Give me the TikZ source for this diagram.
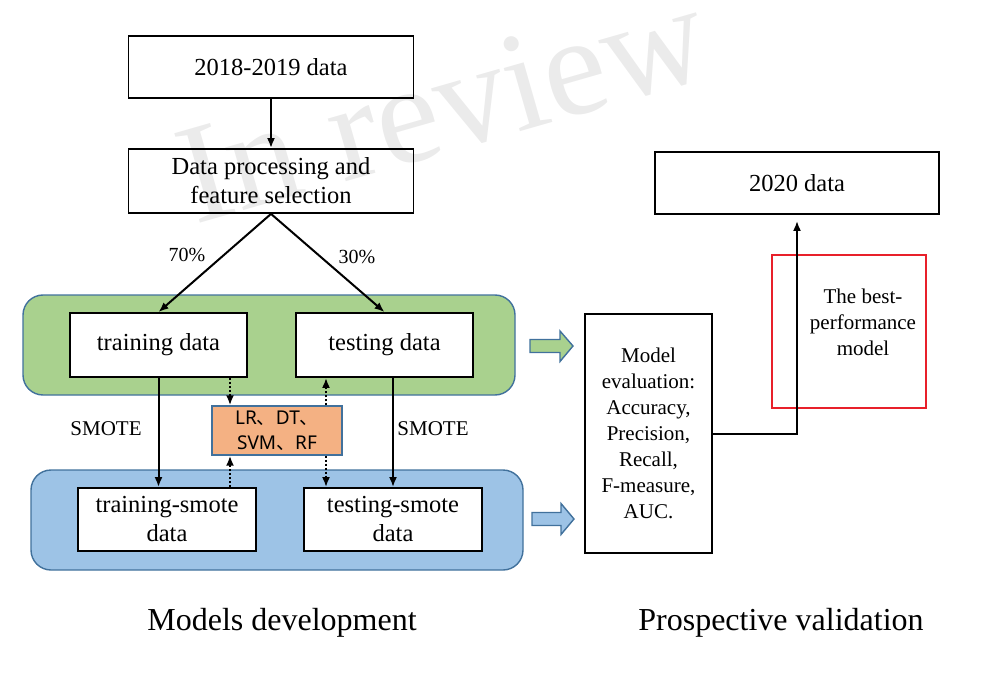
\documentclass[tikz,border=0pt]{standalone}
\usepackage{fontspec}
\setmainfont{Liberation Serif}
\newfontfamily\cjk{Noto Sans CJK SC}
\newfontfamily\algofont{Noto Sans}
\usetikzlibrary{arrows,arrows.meta,calc,positioning,shapes}
\definecolor{panelgreen}{HTML}{A9D18E}
\definecolor{panelblue}{HTML}{9DC3E6}
\definecolor{panelline}{HTML}{41719C}
\definecolor{algofill}{HTML}{F4B183}
\definecolor{bestred}{HTML}{E8202A}
\newcommand{\dun}{{\cjk 、}}
\tikzset{
	databox/.style={draw,rectangle,fill=white,line width=1.8pt,inner sep=2pt,align=center,font=\fontsize{24.5pt}{29pt}\selectfont},
	evalbox/.style={draw,rectangle,fill=white,line width=1.8pt,inner sep=2pt,align=center,font=\fontsize{21pt}{26pt}\selectfont},
	algobox/.style={draw=panelline,rectangle,fill=algofill,line width=1.4pt,align=center,font=\algofont\fontsize{19pt}{25pt}\selectfont},
	panel/.style={draw=panelline,line width=1.4pt,rounded corners=20pt},
	blockarrow/.style={draw=panelline,line width=1.4pt,line join=miter},
	plain/.style={font=\fontsize{21pt}{26pt}\selectfont,align=center},
	title/.style={font=\fontsize{32pt}{38pt}\selectfont},
	link/.style={line width=2pt,-{Latex[length=10pt,width=8pt]}},
	dotlink/.style={line width=2pt,dotted,-{Latex[length=10pt,width=8pt]}}
}
\begin{document}
\begin{tikzpicture}[x=1pt,y=-1pt]
	\useasboundingbox (0,0) rectangle (988,674);

	\draw[panel,fill=panelgreen] (23,295) rectangle (515,395);
	\draw[panel,fill=panelblue] (31,470) rectangle (523,570);

	\node (raw) at (271,67) [databox,minimum width=285pt,minimum height=62pt] {2018-2019 data};
	\node (proc) at (271,181) [databox,minimum width=285pt,minimum height=64pt] {Data processing and\\feature selection};
	\node (train) at (158.5,345) [databox,minimum width=177pt,minimum height=64pt] {training data};
	\node (test) at (384.5,345) [databox,minimum width=177pt,minimum height=64pt] {testing data};
	\node (trainsm) at (167,519.5) [databox,minimum width=178pt,minimum height=63pt] {training-smote\\data};
	\node (testsm) at (393,519.5) [databox,minimum width=178pt,minimum height=63pt] {testing-smote\\data};
	\node (algo) at (277,430.5) [algobox,minimum width=130pt,minimum height=49pt] {LR\dun DT\dun\\SVM\dun RF};

	\node (eval) at (648.5,433.5) [evalbox,minimum width=127pt,minimum height=239pt] {Model\\evaluation:\\Accuracy,\\Precision,\\Recall,\\F-measure,\\AUC.};
	\node (new) at (797,183) [databox,minimum width=284pt,minimum height=62pt] {2020 data};
	\node (best) at (849,331.5) [draw=bestred,line width=1.8pt,minimum width=154pt,minimum height=153pt] {};
	\node (bestlbl) at (863,322) [plain] {The best-\\performance\\model};

	\draw[blockarrow,fill=panelgreen] (530,339.5) -- (560,339.5) -- (560,331) -- (573,346) -- (560,361.5) -- (560,352.5) -- (530,352.5) -- cycle;
	\draw[blockarrow,fill=panelblue] (532,512.5) -- (561,512.5) -- (561,503.5) -- (574,519) -- (561,534.5) -- (561,525.5) -- (532,525.5) -- cycle;

	\coordinate (dl) at (230,0);
	\coordinate (dr) at (326,0);

	\draw[link] (raw) -- (proc);
	\draw[link] (proc.south) -- (train.north);
	\draw[link] (proc.south) -- (test.north);
	\draw[link] (train.south) -- (train.south |- trainsm.north);
	\draw[link] (testsm.north |- test.south) -- (testsm.north);
	\draw[dotlink] (dl |- train.south) -- (dl |- algo.north);
	\draw[dotlink] (dl |- trainsm.north) -- (dl |- algo.south);
	\draw[dotlink] (dr |- algo.north) -- (dr |- test.south);
	\draw[dotlink] (dr |- algo.south) -- (dr |- testsm.north);
	\draw[link,shorten >=6pt] (eval.east) -| (new.south);

	\node (p70) at (187,255) [plain,font=\fontsize{20pt}{24pt}\selectfont] {70\%};
	\node (p30) at (357,257) [plain,font=\fontsize{20pt}{24pt}\selectfont] {30\%};
	\node (smoteL) at (106,429) [plain] {SMOTE};
	\node (smoteR) at (433,429) [plain] {SMOTE};

	\node (devtitle) at (282,623) [title] {Models development};
	\node (valtitle) at (781,623) [title] {Prospective validation};

	\node (wm) at (455,150) [anchor=base,rotate=16,text=black,text opacity=0.08,font=\fontsize{142pt}{142pt}\selectfont] {In review};
\end{tikzpicture}
\end{document}
